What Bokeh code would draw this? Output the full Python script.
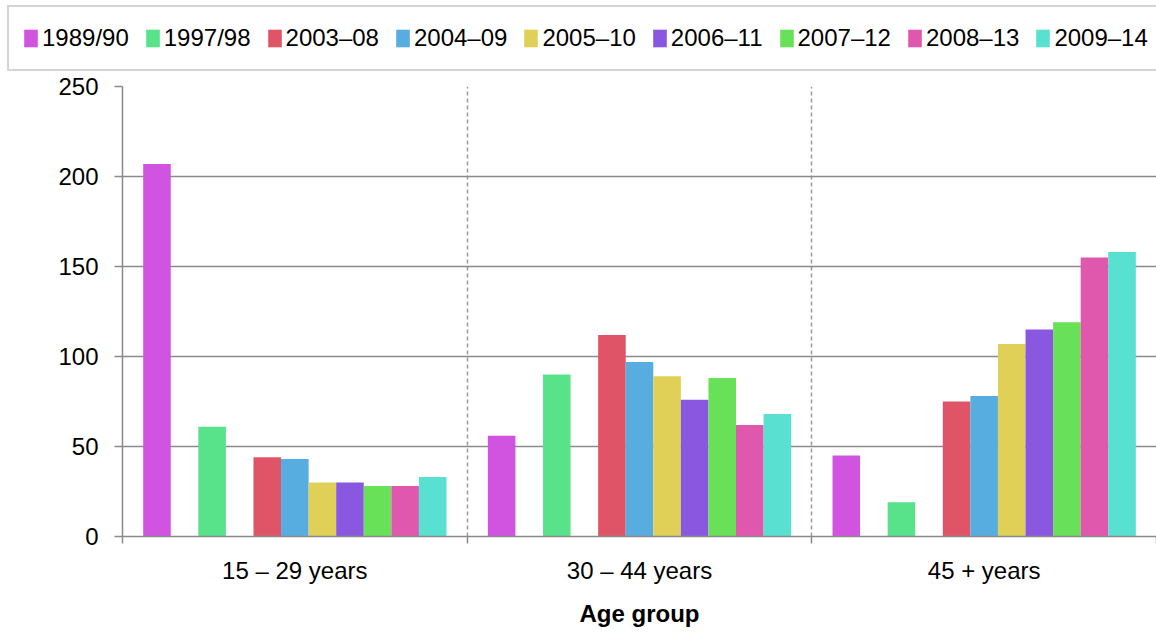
from bokeh.plotting import figure
from bokeh.layouts import column
from bokeh.models import Range1d, FixedTicker, Legend, LegendItem, ColumnDataSource
from bokeh.embed import file_html
from bokeh.resources import INLINE

# ---- data ----
categories = ["15 – 29 years", "30 – 44 years", "45 + years"]
series = ["1989/90", "1997/98", "2003–08", "2004–09", "2005–10",
          "2006–11", "2007–12", "2008–13", "2009–14"]
v_1989_90 = [207, 56, 45]
v_1997_98 = [61, 90, 19]
v_2003_08 = [44, 112, 75]
v_2004_09 = [43, 97, 78]
v_2005_10 = [30, 89, 107]
v_2006_11 = [30, 76, 115]
v_2007_12 = [28, 88, 119]
v_2008_13 = [28, 62, 155]
v_2009_14 = [33, 68, 158]
y_ticks = [0, 50, 100, 150, 200, 250]
x_title = "Age group"

values = [v_1989_90, v_1997_98, v_2003_08, v_2004_09, v_2005_10,
          v_2006_11, v_2007_12, v_2008_13, v_2009_14]

# ---- styles / layout ----
colors = ["#D054E0", "#58E28A", "#E05468", "#58ADE0", "#E0D058",
          "#8A58E0", "#68E058", "#E058AD", "#58E0D0"]
slots = [0, 2, 4, 5, 6, 7, 8, 9, 10]   # Excel-like slot positions (two empty series)
n_slots = 11
gap_width = 1.5
slot_w = 1.0 / (n_slots + gap_width)
FONT = "Liberation Sans"
GRID = "#8a8a8a"

W = 1156
LEG_FIG_H = 71
MAIN_H = 635 - LEG_FIG_H

# ---------------- main chart ----------------
p = figure(width=W, height=MAIN_H,
           x_range=Range1d(0, len(categories)), y_range=Range1d(0, 250),
           output_backend="svg", toolbar_location=None,
           min_border_left=122, min_border_right=0,
           min_border_top=86 - LEG_FIG_H, min_border_bottom=99)
p.outline_line_color = None
p.background_fill_color = "white"
p.border_fill_color = "white"

sources = []
for name, vals, col, slot in zip(series, values, colors, slots):
    xs = [i + 0.5 + (slot - (n_slots - 1) / 2) * slot_w for i in range(len(categories))]
    src = ColumnDataSource(dict(x=xs, top=vals, cat=categories))
    sources.append(src)
    p.vbar(x="x", top="top", bottom=0, width=slot_w, source=src,
           fill_color=col, line_color=None)

# x axis: labels at group centres, ticks at group boundaries
p.xaxis.ticker = FixedTicker(ticks=[i + 0.5 for i in range(len(categories))],
                             minor_ticks=list(range(len(categories) + 1)))
p.xaxis.major_label_overrides = {i + 0.5: c for i, c in enumerate(categories)}
p.xaxis.major_tick_line_color = None
p.xaxis.major_tick_out = 0
p.xaxis.major_tick_in = 0
p.xaxis.minor_tick_line_color = GRID
p.xaxis.minor_tick_line_width = 1.5
p.xaxis.minor_tick_out = 7
p.xaxis.minor_tick_in = 0
p.xaxis.axis_line_color = GRID
p.xaxis.axis_line_width = 1.5
p.xaxis.major_label_text_font = FONT
p.xaxis.major_label_text_font_size = "24px"
p.xaxis.major_label_text_color = "black"
p.xaxis.major_label_standoff = 13
p.xaxis.axis_label = x_title
p.xaxis.axis_label_text_font = FONT
p.xaxis.axis_label_text_font_size = "24px"
p.xaxis.axis_label_text_font_style = "bold"
p.xaxis.axis_label_text_color = "black"
p.xaxis.axis_label_standoff = 13

# y axis
p.yaxis.ticker = FixedTicker(ticks=y_ticks)
p.yaxis.major_tick_out = 8
p.yaxis.major_tick_in = 0
p.yaxis.major_tick_line_color = GRID
p.yaxis.major_tick_line_width = 1.5
p.yaxis.minor_tick_line_color = None
p.yaxis.axis_line_color = GRID
p.yaxis.axis_line_width = 1.5
p.yaxis.major_label_text_font = FONT
p.yaxis.major_label_text_font_size = "24px"
p.yaxis.major_label_text_color = "black"
p.yaxis.major_label_standoff = 16

# grids
p.ygrid.grid_line_color = GRID
p.ygrid.grid_line_width = 1.5
p.xgrid.ticker = FixedTicker(ticks=list(range(1, len(categories))))
p.xgrid.grid_line_color = "#9a9a9a"
p.xgrid.grid_line_width = 1.5
p.xgrid.grid_line_dash = "4 3"

# ---------------- legend strip (own frame spanning the full width) ----------------
lg = figure(width=W, height=LEG_FIG_H, x_range=Range1d(-2, -1), y_range=Range1d(0, 1),
            output_backend="svg", toolbar_location=None,
            min_border_left=0, min_border_right=0, min_border_top=0, min_border_bottom=0)
lg.frame_align = False
lg.axis.visible = False
lg.grid.visible = False
lg.outline_line_color = None
lg.background_fill_color = "white"
lg.border_fill_color = "white"

items = []
for name, col, src in zip(series, colors, sources):
    # same series data, out of this strip's view: only used for the legend swatches
    r = lg.vbar(x="x", top="top", bottom=0, width=slot_w, source=src,
                fill_color=col, line_color=None)
    items.append(LegendItem(label=name, renderers=[r]))

LEG_H = 62
legend = Legend(items=items, orientation="horizontal",
                location=(7, LEG_FIG_H - 9 - LEG_H),
                label_text_font=FONT, label_text_font_size="24px",
                label_text_color="black",
                glyph_width=17, glyph_height=22, label_standoff=3,
                spacing=15, padding=13, label_height=36, margin=0,
                border_line_color="#aaaaaa", border_line_width=2,
                background_fill_color="white", background_fill_alpha=1)
lg.add_layout(legend, "center")

open("out.html", "w").write(file_html(column(lg, p, spacing=0), INLINE))
